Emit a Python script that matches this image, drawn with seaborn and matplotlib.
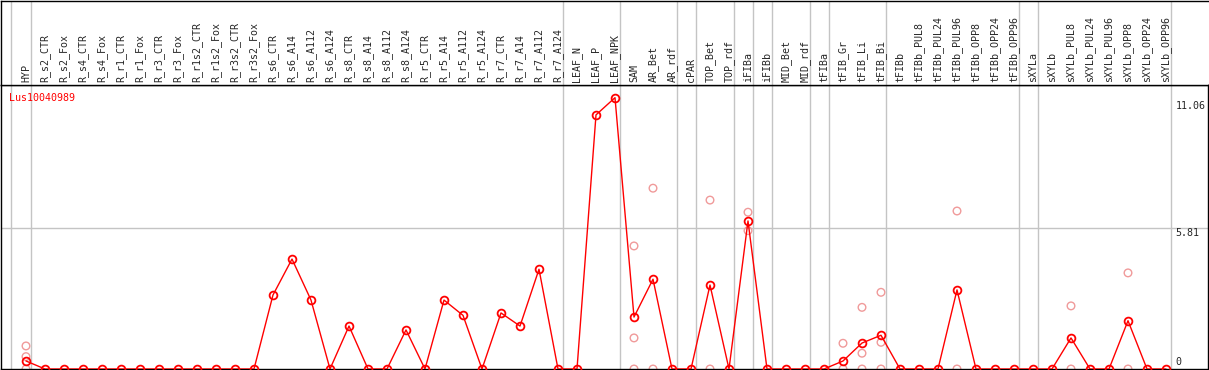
import numpy as np
import pandas as pd
import matplotlib
matplotlib.use('Agg')
import matplotlib.pyplot as plt
import seaborn as sns

# sample columns (left to right)
samples = ['HYP', 'R_s2_CTR', 'R_s2_Fox', 'R_s4_CTR', 'R_s4_Fox', 'R_r1_CTR', 'R_r1_Fox',
           'R_r3_CTR', 'R_r3_Fox', 'R_r1s2_CTR', 'R_r1s2_Fox', 'R_r3s2_CTR', 'R_r3s2_Fox',
           'R_s6_CTR', 'R_s6_A14', 'R_s6_A112', 'R_s6_A124', 'R_s8_CTR', 'R_s8_A14',
           'R_s8_A112', 'R_s8_A124', 'R_r5_CTR', 'R_r5_A14', 'R_r5_A112', 'R_r5_A124',
           'R_r7_CTR', 'R_r7_A14', 'R_r7_A112', 'R_r7_A124', 'LEAF_N', 'LEAF_P', 'LEAF_NPK',
           'SAM', 'AR_Bet', 'AR_rdf', 'cPAR', 'TOP_Bet', 'TOP_rdf', 'iFIBa', 'iFIBb',
           'MID_Bet', 'MID_rdf', 'tFIBa', 'tFIB_Gr', 'tFIB_Li', 'tFIB_Bi', 'tFIBb',
           'tFIBb_PUL8', 'tFIBb_PUL24', 'tFIBb_PUL96', 'tFIBb_OPP8', 'tFIBb_OPP24',
           'tFIBb_OPP96', 'sXYLa', 'sXYLb', 'sXYLb_PUL8', 'sXYLb_PUL24', 'sXYLb_PUL96',
           'sXYLb_OPP8', 'sXYLb_OPP24', 'sXYLb_OPP96']

# mean expression per sample
mean_expr = [0.33, 0, 0, 0, 0, 0, 0, 0, 0, 0, 0, 0, 0,
             3.05, 4.53, 2.84, 0, 1.77, 0, 0, 1.61, 0, 2.84, 2.21, 0,
             2.31, 1.77, 4.11, 0, 0, 10.47, 11.18,
             2.14, 3.70, 0, 0, 3.46, 0, 6.10, 0,
             0, 0, 0, 0.33, 1.07, 1.39, 0,
             0, 0, 3.26, 0, 0, 0, 0, 0, 1.28, 0, 0, 1.99, 0, 0]

# individual replicates (only the visible ones)
rep_samples = ['HYP', 'HYP', 'HYP', 'SAM', 'SAM', 'SAM', 'AR_Bet', 'AR_Bet',
               'TOP_Bet', 'TOP_Bet', 'iFIBa', 'iFIBa', 'tFIB_Gr', 'tFIB_Gr',
               'tFIB_Li', 'tFIB_Li', 'tFIB_Li', 'tFIB_Bi', 'tFIB_Bi', 'tFIB_Bi',
               'tFIBb_PUL96', 'tFIBb_PUL96', 'sXYLb_PUL8', 'sXYLb_PUL8',
               'sXYLb_OPP8', 'sXYLb_OPP8']
rep_values = [0.95, 0.51, 0, 5.07, 1.28, 0, 7.45, 0,
              6.96, 0, 6.46, 5.70, 1.06, 0,
              2.54, 0.65, 0, 3.16, 1.10, 0,
              6.51, 0, 2.60, 0,
              3.96, 0]

# group separators come after these samples
group_ends = ['HYP', 'R_r7_A124', 'LEAF_NPK', 'AR_rdf', 'cPAR', 'TOP_rdf', 'iFIBa',
              'iFIBb', 'MID_rdf', 'tFIBa', 'tFIB_Bi', 'tFIBb_OPP96', 'sXYLa', 'sXYLb_OPP96']

y_ticks = [0, 5.81, 11.06]
gene = 'Lus10040989'

pos = {s: i for i, s in enumerate(samples)}
df = pd.DataFrame({'pos': range(len(samples)), 'value': mean_expr})
rep_df = pd.DataFrame({'pos': [pos[s] for s in rep_samples], 'value': rep_values})

sns.set_style('white')
plt.rcParams['font.family'] = ['DejaVu Sans Mono']

W, H = 1209, 370
fig = plt.figure(figsize=(W / 100, H / 100), dpi=100)
x0, x1 = (1 - 26) / 19, (1208 - 26) / 19
ax_l, ax_w = 1 / W, 1207 / W
ax_b, ax_h = 1 / H, 284 / H

ax = fig.add_axes([ax_l, ax_b, ax_w, ax_h])
hax = fig.add_axes([ax_l, ax_b + ax_h, ax_w, 1 - ax_b - ax_h - 0.5 / H])

grid_c = '#c4c4c4'
seps = [-0.78] + [pos[s] + 0.25 for s in group_ends]
for a in (ax, hax):
    a.set_xlim(x0, x1)
    for s in seps:
        a.axvline(s, color=grid_c, lw=1.0, zorder=0)
    a.set_xticks([])
    a.set_yticks([])
    for sp in a.spines.values():
        sp.set_color('black')
        sp.set_linewidth(1.0)

hax.spines['right'].set_visible(False)
hax.set_ylim(0, 1)
for i, s in enumerate(samples):
    hax.text(i, 0.03, s, rotation=90, ha='center', va='bottom', fontsize=7.2)

ax.set_ylim(0, (369 - 85) / 24.27)
ax.axhline(5.81, color=grid_c, lw=1.0, zorder=0)

sns.scatterplot(data=rep_df, x='pos', y='value', ax=ax, marker='o', s=30,
                facecolors='none', edgecolor='#f09a9a', linewidth=1.0, zorder=2)
sns.lineplot(data=df, x='pos', y='value', ax=ax, color='red', lw=1.0, sort=False,
             marker='o', markersize=5.6, markerfacecolor='none',
             markeredgecolor='red', markeredgewidth=1.3, zorder=3)
ax.set_xlabel('')
ax.set_ylabel('')

ax.text(0.007, 0.955, gene, transform=ax.transAxes, color='red', fontsize=7.2,
        ha='left', va='center')
for v in y_ticks:
    va = 'bottom' if v == 0 else 'top'
    ax.text(60.5, v + (0.1 if v == 0 else 0), f'{v:g}' if v == 0 else f'{v:.2f}',
            fontsize=7.2, ha='left', va=va)

fig.savefig('out.png', dpi=100)
